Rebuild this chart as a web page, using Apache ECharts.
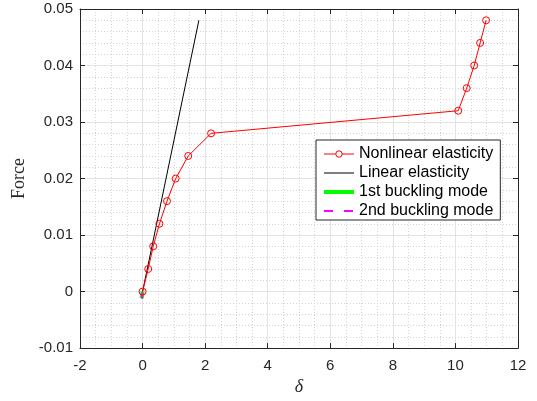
<!DOCTYPE html>
<html><head><meta charset="utf-8">
<script src="https://cdn.jsdelivr.net/npm/echarts@6/dist/echarts.min.js"></script>
<style>html,body{margin:0;padding:0;background:#fff}#c{width:537px;height:401px}</style>
</head><body><div id="c"></div>
<script>
const nonlinearX = [0, 0.18, 0.34, 0.54, 0.78, 1.06, 1.46, 2.19, 10.09, 10.36, 10.6, 10.79, 10.98];
const nonlinearY = [0, 0.004, 0.008, 0.012, 0.016, 0.020, 0.024, 0.028, 0.032, 0.036, 0.040, 0.044, 0.048];
const linearX = [0, 1.8];
const linearY = [0, 0.048];
const buckle1X = [0, -0.03];
const buckle1Y = [0, -0.0012];
const buckle2X = [0, -0.02];
const buckle2Y = [-0.0002, -0.0013];
const seriesNames = ['Nonlinear elasticity', 'Linear elasticity', '1st buckling mode', '2nd buckling mode'];
const xTicks = [-2, 0, 2, 4, 6, 8, 10, 12];
const yTicks = [-0.01, 0, 0.01, 0.02, 0.03, 0.04, 0.05];

const zip = (a, b) => a.map((v, i) => [v, b[i]]);
const axisColor = '#262626';
const font = 'Liberation Sans, Arial, sans-serif';
const serif = 'Liberation Serif, Times New Roman, serif';
const chart = echarts.init(document.getElementById('c'), null, {renderer: 'canvas'});
const fmtY = v => String(Math.round(v * 1000) / 1000);
const gridLine = {show: true, lineStyle: {color: '#e3e3e3', width: 1}};
const minorGrid = {show: true, lineStyle: {color: '#d4d4d4', width: 1, type: [1, 2]}};
const red = '#ff0000', green = '#00ff00', magenta = '#ff00ff';
chart.setOption({
  animation: false,
  backgroundColor: '#fff',
  grid: {left: 80, right: 19, top: 9, bottom: 47, containLabel: false},
  legend: {
    orient: 'vertical', left: 316, top: 140,
    data: [
      {name: seriesNames[0], itemStyle: {color: '#fff', borderColor: red, borderWidth: 1, opacity: 1}, lineStyle: {color: red, width: 1}},
      {name: seriesNames[1], itemStyle: {opacity: 0}, lineStyle: {color: '#000', width: 1}},
      {name: seriesNames[2], itemStyle: {opacity: 0}, lineStyle: {color: green, width: 4}},
      {name: seriesNames[3], itemStyle: {opacity: 0}, lineStyle: {color: magenta, width: 2, type: [9, 11]}}
    ],
    itemWidth: 30, itemHeight: 8, itemGap: 3,
    padding: [6, 7, 1, 6],
    backgroundColor: '#fff', borderColor: axisColor, borderWidth: 1, borderRadius: 0,
    textStyle: {fontFamily: font, fontSize: 16, color: '#000'}
  },
  xAxis: [{
    type: 'value', min: xTicks[0], max: xTicks[xTicks.length - 1], interval: 2,
    name: 'δ', nameLocation: 'middle', nameGap: 23,
    nameTextStyle: {fontFamily: serif, fontStyle: 'italic', fontSize: 18, color: axisColor},
    axisLine: {show: true, onZero: false, lineStyle: {color: axisColor}},
    axisTick: {show: true, inside: true, length: 5, lineStyle: {color: axisColor}},
    axisLabel: {fontFamily: font, fontSize: 15, color: axisColor, margin: 10},
    splitLine: gridLine,
    minorTick: {show: false, splitNumber: 4},
    minorSplitLine: minorGrid
  }, {
    type: 'value', position: 'top', min: xTicks[0], max: xTicks[xTicks.length - 1], interval: 2,
    axisLine: {show: true, onZero: false, lineStyle: {color: axisColor}},
    axisTick: {show: true, inside: true, length: 5, lineStyle: {color: axisColor}},
    axisLabel: {show: false}, splitLine: {show: false}
  }],
  yAxis: [{
    type: 'value', min: yTicks[0], max: yTicks[yTicks.length - 1], interval: 0.01,
    name: 'Force', nameLocation: 'middle', nameGap: 49,
    nameTextStyle: {fontFamily: serif, fontSize: 18, color: axisColor},
    axisLine: {show: true, onZero: false, lineStyle: {color: axisColor}},
    axisTick: {show: true, inside: true, length: 5, lineStyle: {color: axisColor}},
    axisLabel: {fontFamily: font, fontSize: 15, color: axisColor, margin: 7, formatter: fmtY},
    splitLine: gridLine,
    minorTick: {show: false, splitNumber: 5},
    minorSplitLine: minorGrid
  }, {
    type: 'value', position: 'right', min: yTicks[0], max: yTicks[yTicks.length - 1], interval: 0.01,
    axisLine: {show: true, onZero: false, lineStyle: {color: axisColor}},
    axisTick: {show: true, inside: true, length: 5, lineStyle: {color: axisColor}},
    axisLabel: {show: false}, splitLine: {show: false}
  }],
  series: [
    {name: seriesNames[0], type: 'line', data: zip(nonlinearX, nonlinearY),
     symbol: 'circle', symbolSize: 7, z: 5,
     lineStyle: {color: red, width: 1}, itemStyle: {color: 'rgba(255,255,255,0)', borderColor: red, borderWidth: 1}},
    {name: seriesNames[1], type: 'line', data: zip(linearX, linearY), symbol: 'none', z: 4,
     lineStyle: {color: '#000', width: 1}, itemStyle: {color: '#000'}},
    {name: seriesNames[2], type: 'line', data: zip(buckle1X, buckle1Y), symbol: 'none', z: 3,
     lineStyle: {color: green, width: 4}, itemStyle: {color: green}},
    {name: seriesNames[3], type: 'line', data: zip(buckle2X, buckle2Y), symbol: 'none', z: 3,
     lineStyle: {color: magenta, width: 2, type: [6, 5]}, itemStyle: {color: magenta}}
  ]
});
</script></body></html>
